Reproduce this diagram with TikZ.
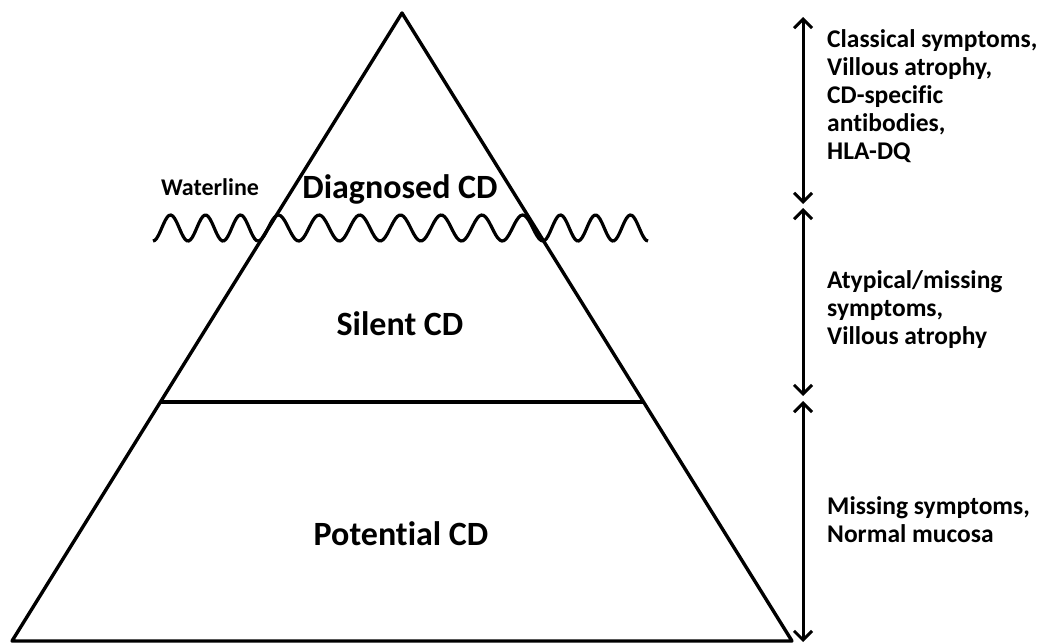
\documentclass[tikz,border=0pt]{standalone}
\usepackage{fontspec}
\setmainfont{Carlito}[Ligatures=NoCommon]
\usetikzlibrary{arrows.meta, calc}

\begin{document}
\begin{tikzpicture}[x=1pt,y=-1pt,>={Straight Barb[length=9pt,width=18pt]},
  edge/.style={line width=3.4pt,line join=round},
  span/.style={<->,line width=3pt},
  wave/.style={line width=3.2pt,smooth},
  layer/.style={font=\bfseries\fontsize{34}{40}\selectfont,anchor=base},
  note/.style={font=\bfseries\fontsize{25.5}{28}\selectfont,align=left,anchor=base west,inner sep=0pt}]
  \useasboundingbox (0,0) rectangle (1043,643);
  % iceberg
  \coordinate (apex) at (402,13);
  \coordinate (bl) at (12,641);
  \coordinate (br) at (792,641);
  \draw[edge] (apex) -- (br) -- (bl) -- cycle;
  \coordinate (sl) at ($(apex)!0.6194!(bl)$);
  \coordinate (sr) at ($(apex)!0.6194!(br)$);
  \draw[edge] (sl) -- (sr);
  % waterline
  \draw[wave,domain=153:258,samples=60] plot ({\x},{228+13*cos((\x-153)/35*360)});
  \draw[wave,domain=258:543,samples=140] plot ({\x},{228+13*cos((\x-258)/40.714*360)});
  \draw[wave,domain=543:648,samples=60] plot ({\x},{228+13*cos((\x-543)/35*360)});
  \node[font=\bfseries\fontsize{24}{28}\selectfont,anchor=base] (wl) at (210,195) {Waterline};
  % layers
  \node[layer] (diag) at (400,198) {Diagnosed CD};
  \node[layer] (silent) at (400,335) {Silent CD};
  \node[layer] (pot) at (401,545) {Potential CD};
  % ranges
  \coordinate (a0) at (803,17);
  \coordinate (a1) at (803,204);
  \coordinate (a2) at (803,208);
  \coordinate (a3) at (803,396);
  \coordinate (a4) at (803,401);
  \coordinate (a5) at (803,642);
  \draw[span] (a0) -- (a1);
  \draw[span] (a2) -- (a3);
  \draw[span] (a4) -- (a5);
  % base anchor sits on the last line
  \node[note] (n1) at (827,159) {Classical symptoms,\\Villous atrophy,\\CD-specific\\antibodies,\\HLA-DQ};
  \node[note] (n2) at (827,344) {Atypical/missing\\symptoms,\\Villous atrophy};
  \node[note] (n3) at (827,542) {Missing symptoms,\\Normal mucosa};
\end{tikzpicture}
\end{document}
